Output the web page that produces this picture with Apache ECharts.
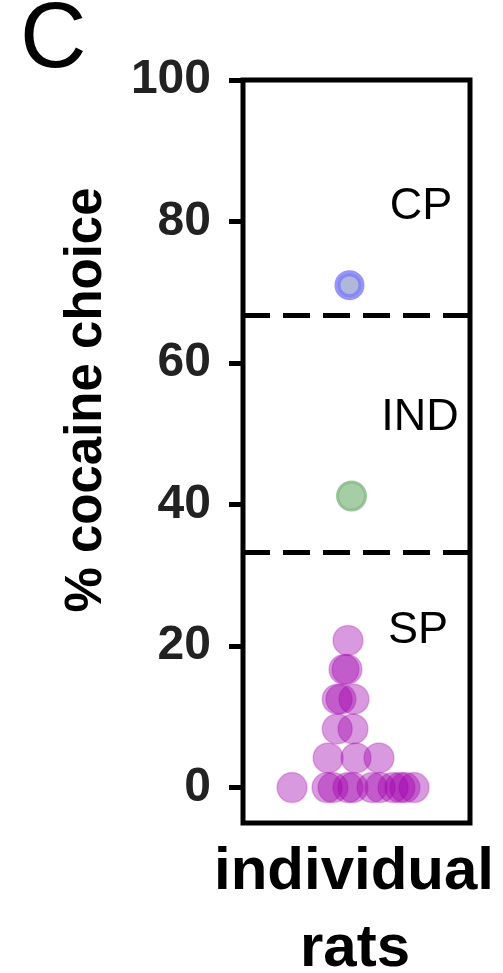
<!DOCTYPE html>
<html>
<head>
<meta charset="utf-8">
<style>
  html, body { margin: 0; padding: 0; background: #fff; }
  #chart { width: 503px; height: 973px; }
</style>
<script src="https://cdn.jsdelivr.net/npm/echarts@6/dist/echarts.min.js"></script>
</head>
<body>
<div id="chart"></div>
<script>
// y-axis ticks (% cocaine choice)
const yTicks = [0, 20, 40, 60, 80, 100];
// boundaries between the preference groups
const zoneBounds = [33.3, 66.7];
const zoneNames = ['CP', 'IND', 'SP'];

// cocaine-preferring rats (x = jitter within the strip)
const cpX = [-0.062];
const cpY = [71.0];
// indifferent rats
const indX = [-0.044];
const indY = [41.2];
// sucrose-preferring rats
const spX = [-0.075, -0.11, -0.084, -0.17, -0.137, -0.022, -0.17, -0.031,
             -0.25, -0.004, 0.198,
             -0.568, -0.26, -0.207, -0.075, -0.031, 0.137, 0.207, 0.322, 0.383, 0.427, 0.507];
const spY = [20.8, 16.7, 16.7, 12.5, 12.5, 12.5, 8.3, 8.3,
             4.2, 4.2, 4.2,
             0, 0, 0, 0, 0, 0, 0, 0, 0, 0, 0];

const FONT = '"Liberation Sans", Arial, Helvetica, sans-serif';
const pairs = (xs, ys) => xs.map((x, i) => [x, ys[i]]);

const chart = echarts.init(document.getElementById('chart'), null, { renderer: 'canvas' });

chart.setOption({
  animation: false,
  backgroundColor: '#fff',
  grid: {
    left: 243, top: 80, width: 227, height: 743,
    show: true, borderColor: '#000', borderWidth: 5,
    backgroundColor: 'transparent',
    containLabel: false, outerBoundsMode: 'none'
  },
  xAxis: {
    type: 'value', min: -1, max: 1,
    axisLine: { show: false, onZero: false }, axisTick: { show: false },
    axisLabel: { show: false }, splitLine: { show: false }
  },
  yAxis: {
    type: 'value', min: -5, max: 100, position: 'left',
    axisLine: { show: false, onZero: false },
    splitLine: { show: false },
    axisTick: {
      show: true, customValues: yTicks, length: 14,
      lineStyle: { color: '#000', width: 5 }
    },
    axisLabel: {
      customValues: yTicks, margin: 32,
      fontSize: 48, fontWeight: 'bold', color: '#222', fontFamily: FONT
    }
  },
  series: [
    {
      type: 'scatter', name: zoneNames[2],
      data: pairs(spX, spY),
      symbolSize: 30,
      itemStyle: {
        color: 'rgba(160,0,172,0.5)',
        borderColor: 'rgba(160,0,172,0.3)', borderWidth: 1.5
      },
      markLine: {
        silent: true, symbol: 'none',
        label: { show: false },
        lineStyle: { color: '#000', width: 5, type: [27, 13] },
        data: zoneBounds.map(v => ({ yAxis: v }))
      },
      z: 3
    },
    {
      type: 'scatter', name: zoneNames[1],
      data: pairs(indX, indY),
      symbolSize: 28,
      itemStyle: { color: '#8fc28f', borderColor: '#84b984', borderWidth: 3 },
      z: 3
    },
    {
      type: 'scatter', name: zoneNames[0],
      data: pairs(cpX, cpY),
      symbolSize: 24,
      itemStyle: { color: '#9ba6cc', borderColor: '#7b7bff', borderWidth: 6 },
      z: 3
    }
  ],
  graphic: [
    { type: 'text', x: 20, y: 42,
      style: { text: 'C', font: 'normal 92px ' + FONT, fill: '#000', align: 'left', verticalAlign: 'middle' } },
    { type: 'text', x: 421, y: 207,
      style: { text: zoneNames[0], font: 'normal 45px ' + FONT, fill: '#000', align: 'center', verticalAlign: 'middle' } },
    { type: 'text', x: 420, y: 418,
      style: { text: zoneNames[1], font: 'normal 45px ' + FONT, fill: '#000', align: 'center', verticalAlign: 'middle' } },
    { type: 'text', x: 418, y: 631,
      style: { text: zoneNames[2], font: 'normal 45px ' + FONT, fill: '#000', align: 'center', verticalAlign: 'middle' } },
    { type: 'text', x: 87, y: 400, rotation: Math.PI / 2,
      style: { text: '% cocaine choice', font: 'bold 51px ' + FONT, fill: '#000', align: 'center', verticalAlign: 'middle' } },
    { type: 'text', x: 354, y: 872,
      style: { text: 'individual', font: 'bold 60px ' + FONT, fill: '#000', align: 'center', verticalAlign: 'middle' } },
    { type: 'text', x: 355, y: 949,
      style: { text: 'rats', font: 'bold 60px ' + FONT, fill: '#000', align: 'center', verticalAlign: 'middle' } }
  ]
});
</script>
</body>
</html>
